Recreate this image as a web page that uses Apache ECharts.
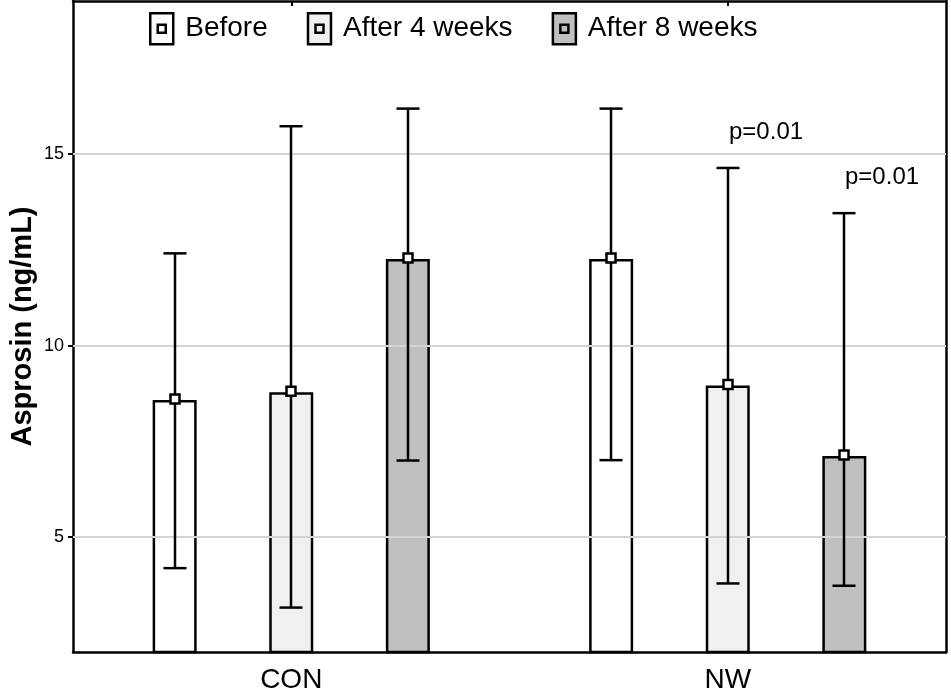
<!DOCTYPE html>
<html>
<head>
<meta charset="utf-8">
<script src="https://cdn.jsdelivr.net/npm/echarts@6/dist/echarts.min.js"></script>
<style>
html, body { margin: 0; padding: 0; background: #fff; }
#chart { width: 951px; height: 698px; }
</style>
</head>
<body>
<div id="chart"></div>
<script>
// data
var categories = ['CON', 'NW'];
var groupNames = ['Before', 'After 4 weeks', 'After 8 weeks'];
var groupColors = ['#ffffff', '#f0f0f0', '#c0c0c0'];

var meanBefore = [8.58, 12.26];
var meanAfter4 = [8.78, 8.96];
var meanAfter8 = [12.26, 7.12];

var lowBefore = [4.19, 7.01];
var lowAfter4 = [3.16, 3.79];
var lowAfter8 = [7.00, 3.73];

var highBefore = [12.41, 16.19];
var highAfter4 = [15.73, 14.64];
var highAfter8 = [16.19, 13.46];

var pBefore = ['', ''];
var pAfter4 = ['', 'p=0.01'];
var pAfter8 = ['', 'p=0.01'];

var yTicks = [5, 10, 15];

var means = [meanBefore, meanAfter4, meanAfter8];
var lows = [lowBefore, lowAfter4, lowAfter8];
var highs = [highBefore, highAfter4, highAfter8];
var pTexts = [pBefore, pAfter4, pAfter8];

var FONT = '"Liberation Sans", Arial, sans-serif';
var BAR_W = 44;
var BAR_GAP = 1.65; // gap as part of bar width
var BAR_STEP = BAR_W * (1 + BAR_GAP);
var LW = 2.5;

var iconPath = 'path://M0,0 H23 V31 H0 Z M7.5,11.5 H15.5 V19.5 H7.5 Z';

/*==========================================
 * error bars, mean markers, p labels
 */
function makeErrSeries(idx) {
    var _data = [];
    for (var i = 0; i < categories.length; i++) {
        _data.push([i, means[idx][i], lows[idx][i], highs[idx][i], pTexts[idx][i]]);
    };
    return {
        type: 'custom',
        name: 'err' + idx,
        z: 5,
        silent: true,
        data: _data,
        renderItem: function(params, api) {
            var ci = api.value(0);
            var off = (idx - 1) * BAR_STEP;
            var top = api.coord([ci, api.value(3)]);
            var bot = api.coord([ci, api.value(2)]);
            var mid = api.coord([ci, api.value(1)]);
            var x = Math.round(top[0] + off);
            var ls = { stroke: '#000', lineWidth: LW };
            var children = [
                { type: 'line', shape: { x1: x, y1: top[1], x2: x, y2: bot[1] }, style: ls },
                { type: 'line', shape: { x1: x - 11.5, y1: top[1], x2: x + 11.5, y2: top[1] }, style: ls },
                { type: 'line', shape: { x1: x - 11.5, y1: bot[1], x2: x + 11.5, y2: bot[1] }, style: ls },
                { type: 'rect', shape: { x: x - 4.5, y: mid[1] - 5.5, width: 9, height: 9 },
                  style: { fill: '#fff', stroke: '#000', lineWidth: LW } }
            ];
            var txt = _data[params.dataIndex][4];
            if (txt) {
                children.push({
                    type: 'text',
                    style: {
                        text: txt, x: x + 1, y: top[1] - 36,
                        align: 'left', verticalAlign: 'middle',
                        font: '24px ' + FONT, fill: '#000'
                    }
                });
            };
            return { type: 'group', children: children };
        }
    };
};

var series = [];

// gridlines behind the bars
series.push({
    type: 'line',
    name: 'grid',
    data: [],
    z: 1,
    silent: true,
    markLine: {
        silent: true,
        symbol: 'none',
        label: { show: false },
        lineStyle: { color: '#d4d4d4', width: 2, type: 'solid' },
        data: yTicks.map(function(v) { return { yAxis: v }; })
    }
});

for (var g = 0; g < groupNames.length; g++) {
    series.push({
        type: 'bar',
        name: groupNames[g],
        data: means[g],
        barWidth: BAR_W,
        barGap: (BAR_GAP * 100) + '%',
        z: 2,
        silent: true,
        itemStyle: { color: groupColors[g], borderColor: '#000', borderWidth: LW }
    });
};
for (var g = 0; g < groupNames.length; g++) {
    series.push(makeErrSeries(g));
};

var axisLine = { show: true, lineStyle: { color: '#000', width: LW } };
var tickLine = { color: '#000', width: 2 };

var option = {
    animation: false,
    backgroundColor: '#fff',
    textStyle: { fontFamily: FONT },
    grid: { left: 73, right: 5, top: 1, bottom: 46, containLabel: false, outerBoundsMode: 'none' },
    legend: {
        data: groupNames,
        left: 149,
        top: 12,
        padding: 0,
        itemGap: 39,
        itemWidth: 23,
        itemHeight: 31,
        icon: iconPath,
        itemStyle: { borderWidth: LW, borderColor: '#000' },
        textStyle: { fontSize: 28, color: '#000', fontFamily: FONT, padding: [3, 0, 0, 7] }
    },
    xAxis: [{
        type: 'category',
        data: categories,
        position: 'bottom',
        axisLine: axisLine,
        axisTick: { show: true, inside: true, length: 5, alignWithLabel: true, lineStyle: tickLine },
        axisLabel: { fontSize: 28, color: '#000', margin: 14, fontFamily: FONT },
        splitLine: { show: false }
    }, {
        type: 'category',
        data: categories,
        position: 'top',
        axisLine: axisLine,
        axisTick: { show: true, inside: true, length: 5, alignWithLabel: true, lineStyle: tickLine },
        axisLabel: { show: false },
        splitLine: { show: false }
    }],
    yAxis: [{
        type: 'value',
        min: 2,
        max: 19,
        position: 'left',
        name: 'Asprosin (ng/mL)',
        nameLocation: 'middle',
        nameGap: 36,
        nameMoveOverlap: false,
        nameTextStyle: { fontSize: 29, fontWeight: 'bold', color: '#000', fontFamily: FONT },
        axisLine: axisLine,
        axisTick: { show: true, length: 5, customValues: yTicks, lineStyle: tickLine },
        axisLabel: { fontSize: 18, color: '#000', margin: 9, customValues: yTicks, fontFamily: FONT },
        splitLine: { show: false }
    }, {
        type: 'value',
        min: 2,
        max: 19,
        position: 'right',
        axisLine: axisLine,
        axisTick: { show: true, inside: true, length: 4, customValues: yTicks, lineStyle: tickLine },
        axisLabel: { show: false },
        splitLine: { show: false }
    }],
    series: series
};

var myChart = echarts.init(document.getElementById('chart'));
myChart.setOption(option);
</script>
</body>
</html>
